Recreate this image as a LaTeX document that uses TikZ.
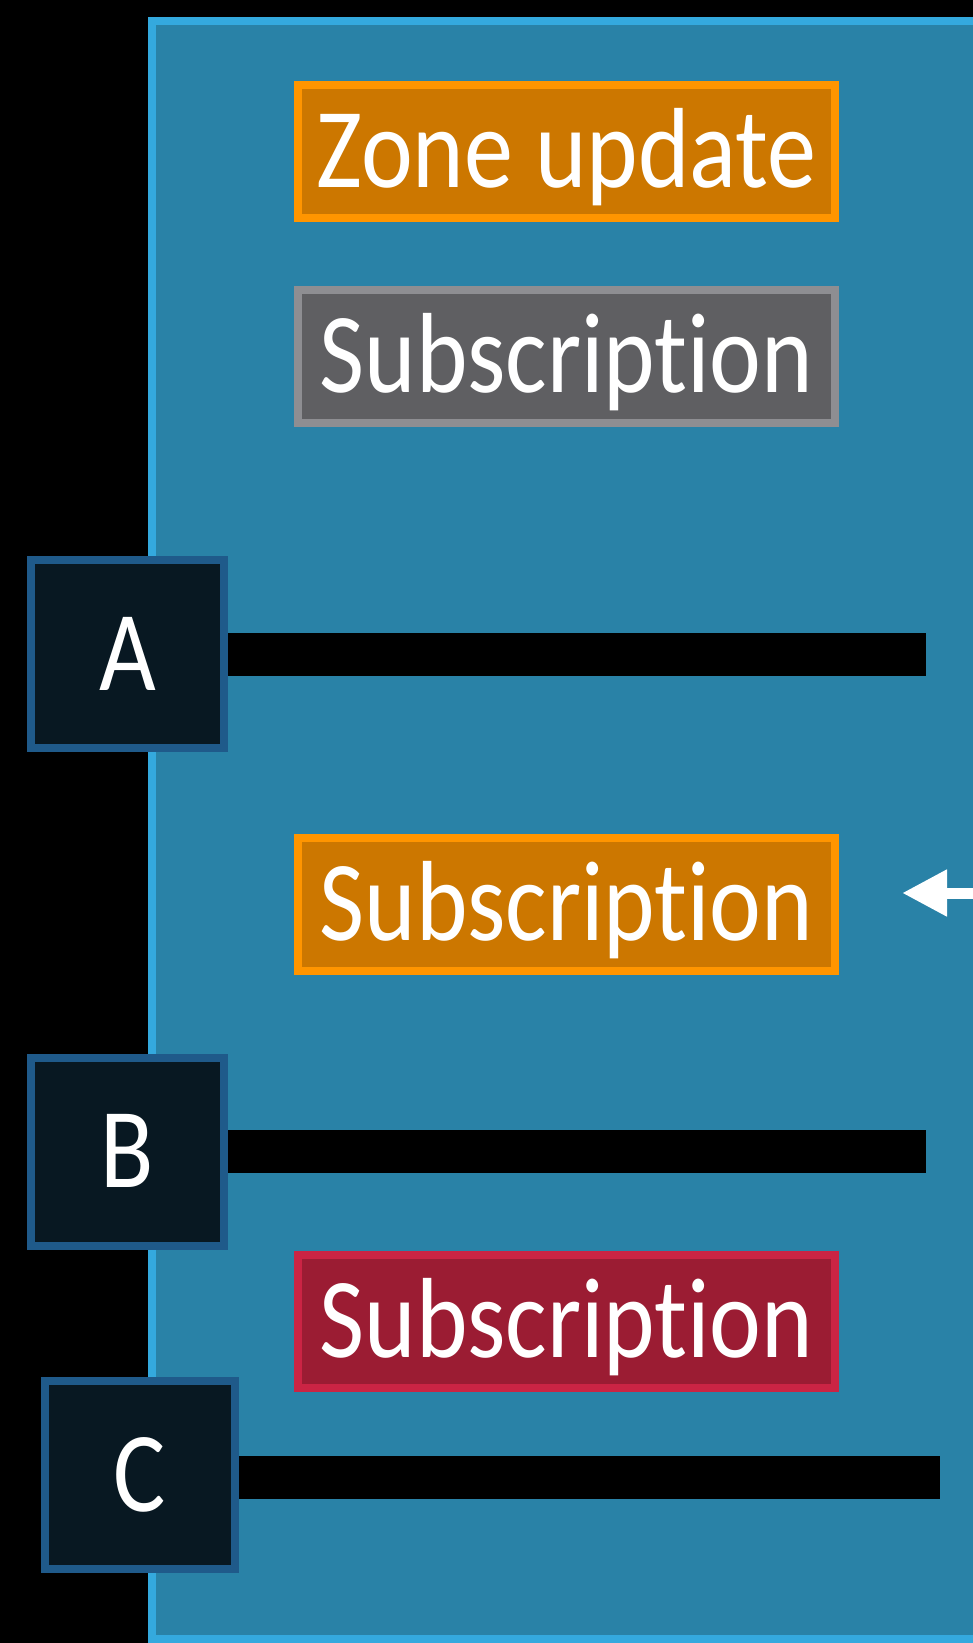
\documentclass[tikz,border=0pt]{standalone}
\usepackage{fontspec}
\usepackage{graphicx}
\setmainfont{Carlito}[Ligatures=NoCommon]
\usetikzlibrary{arrows.meta}
\definecolor{panelfill}{HTML}{2982A7}
\definecolor{panelline}{HTML}{34A9DE}
\definecolor{orfill}{HTML}{CC7700}
\definecolor{orline}{HTML}{FF9500}
\definecolor{grfill}{HTML}{5F5F62}
\definecolor{grline}{HTML}{8E8E92}
\definecolor{rdfill}{HTML}{9B1C33}
\definecolor{rdline}{HTML}{CB2444}
\definecolor{ltfill}{HTML}{081822}
\definecolor{ltline}{HTML}{1F5A8A}
\newcommand{\bigtxt}[1]{\fontsize{114}{114}\selectfont\scalebox{0.86}[1]{#1}}
\tikzset{
  msgbox/.style={draw, line width=8pt, minimum width=537pt, minimum height=133pt,
    inner sep=0pt, text=white, text height=72pt, text depth=0pt, font=\fontsize{114}{114}\selectfont},
  orbox/.style={msgbox, draw=orline, fill=orfill},
  grbox/.style={msgbox, draw=grline, fill=grfill},
  rdbox/.style={msgbox, draw=rdline, fill=rdfill},
  letterbox/.style={draw=ltline, fill=ltfill, line width=8pt, inner sep=0pt, text=white,
    minimum width=193pt, minimum height=188pt, text height=72pt, text depth=0pt},
  bar/.style={line width=43pt, black, line cap=butt},
  inarrow/.style={white, line width=11pt, -{Triangle[length=45pt,width=44pt]}}
}
\begin{document}
\begin{tikzpicture}[x=1pt,y=-1pt]
\useasboundingbox (0,0) rectangle (973,1643);
\fill[black] (0,0) rectangle (973,1643);
\begin{scope}
\clip (0,0) rectangle (973,1643);
\draw[panelline, fill=panelfill, line width=8pt] (152,21) rectangle (1100,1639);
\end{scope}

\node[orbox] (zone) at (566.5,151.5) {\bigtxt{Zone update}};
\node[grbox] (sub1) at (566.5,356.5) {\bigtxt{Subscription}};
\node[orbox] (sub2) at (566.5,904) {\bigtxt{Subscription}};
\node[rdbox] (sub3) at (566.5,1321.5) {\bigtxt{Subscription}};

\node[letterbox] (A) at (127.5,654) {\bigtxt{A}};
\node[letterbox] (B) at (127.5,1151.5) {\bigtxt{B}};
\node[letterbox, minimum width=190pt] (C) at (140,1475) {\bigtxt{C}};

\coordinate (Aend) at (926,654);
\coordinate (Bend) at (926,1151.5);
\coordinate (Cend) at (940,1477);
\draw[bar] (A.east) -- (Aend);
\draw[bar] (B.east) -- (Bend);
\draw[bar] (C.east |- Cend) -- (Cend);

\coordinate (arrfrom) at (990,893);
\coordinate (arrto) at (902,893);
\draw[inarrow] (arrfrom) -- (arrto);
\end{tikzpicture}
\end{document}
